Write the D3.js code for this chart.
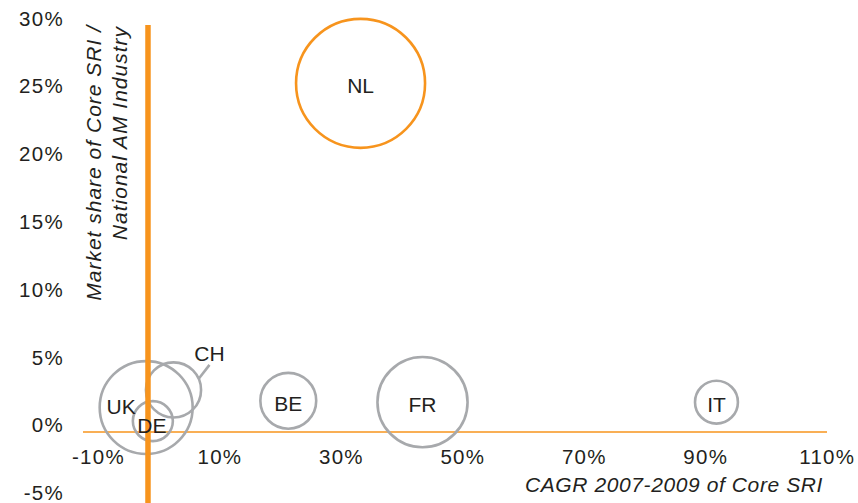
<!DOCTYPE html>
<html>
<head>
<meta charset="utf-8">
<script src="https://cdnjs.cloudflare.com/ajax/libs/d3/7.8.5/d3.min.js"></script>
<style>
    body { margin: 0; background: #fff; }
    svg { display: block; font-family: 'Liberation Sans', Arial, Helvetica, sans-serif; }
</style>
</head>
<body>
<svg id="chart"></svg>
<script>
// Data
let countries = ['NL', 'UK', 'FR', 'BE', 'CH', 'IT', 'DE'];
let cagr = [33.4, -1.9, 43.6, 21.5, 2.6, 92.0, -0.8];     // x, %
let share = [25.7, 1.8, 2.2, 2.3, 3.1, 2.2, 0.8];       // y, %
let bubbleSize = [41.6, 21.6, 20.3, 7.8, 7.6, 4.6, 4.0];  // relative size
let highlighted = ['NL'];
let xTicks = [-10, 10, 30, 50, 70, 90, 110];
let yTicks = [-5, 0, 5, 10, 15, 20, 25, 30];
let xTitle = 'CAGR 2007-2009 of Core SRI';
let yTitle = ['Market share of Core SRI /', 'National AM Industry'];
let yAxisCrossing = -1.6;

// Layout
let c = {
    svg: { width: 858, height: 503 },
    orange: '#f7941d',
    grey: '#a7a9ac',
    ink: '#231f20'
};

// label nudges for crowded bubbles (px)
let labelNudge = {
    UK: [-25, -4],
    DE: [-1, 2]
};

let svg = d3.select('#chart')
    .attr('width', c.svg.width)
    .attr('height', c.svg.height);

let scales = {
    x: d3.scaleLinear().domain([-12.3, 110.2]).range([83, 827]),
    y: d3.scaleLinear().domain([-5, 30]).range([499.8, 25]),
    r: d3.scaleSqrt().domain([0, d3.max(bubbleSize)]).range([0, 64.5])
};

let rows = countries.map((name, i) => ({
    name: name, x: cagr[i], y: share[i], size: bubbleSize[i]
}));

// Axes (labels only)
let yAxis = d3.axisLeft(scales.y)
    .tickValues(yTicks)
    .tickFormat(d => d + '%')
    .tickSize(0)
    .tickPadding(0);
let gy = svg.append('g')
    .attr('transform', translate(64, 0))
    .call(yAxis);

let xAxis = d3.axisBottom(scales.x)
    .tickValues(xTicks)
    .tickFormat(d => d + '%')
    .tickSize(0)
    .tickPadding(0);
let gx = svg.append('g')
    .attr('transform', translate(1, 464))
    .call(xAxis);

svg.selectAll('.domain').remove();
svg.selectAll('.tick line').remove();
svg.selectAll('.tick text')
    .attr('font-family', null)
    .style('font-size', '20.5px')
    .style('letter-spacing', '1.3px')
    .style('fill', c.ink);
gy.selectAll('.tick text').attr('dy', 0);
gx.selectAll('.tick text').attr('y', 0).attr('dy', 0);

// horizontal axis line at 0%
svg.append('line')
    .attr('x1', scales.x.range()[0])
    .attr('x2', scales.x.range()[1])
    .attr('y1', scales.y(0))
    .attr('y2', scales.y(0))
    .style('stroke', c.orange)
    .style('stroke-width', 1.5);

// bubbles
let plot = svg.append('g').attr('id', 'plot');
plot.selectAll('circle')
    .data(rows)
    .join('circle')
    .attr('cx', d => scales.x(d.x))
    .attr('cy', d => scales.y(d.y))
    .attr('r', d => scales.r(d.size))
    .style('fill', 'none')
    .style('stroke', d => highlighted.includes(d.name) ? c.orange : c.grey)
    .style('stroke-width', 2.6);

// thick vertical axis
svg.append('line')
    .attr('x1', scales.x(yAxisCrossing))
    .attr('x2', scales.x(yAxisCrossing))
    .attr('y1', scales.y(30))
    .attr('y2', c.svg.height)
    .style('stroke', c.orange)
    .style('stroke-width', 5.5);

// CH leader line and labels
let ch = rows.find(d => d.name === 'CH');
let chx = scales.x(ch.x), chy = scales.y(ch.y), chr = scales.r(ch.size);
let ang = Math.atan2(-11, 25);
svg.append('line')
    .attr('x1', chx + chr * Math.cos(ang))
    .attr('y1', chy + chr * Math.sin(ang))
    .attr('x2', chx + 36)
    .attr('y2', chy - 25)
    .style('stroke', c.grey)
    .style('stroke-width', 2.6);

svg.append('g').attr('id', 'text')
    .selectAll('text')
    .data(rows)
    .join('text')
    .attr('x', d => {
        if (d.name === 'CH') return chx + 36;
        return scales.x(d.x) + (labelNudge[d.name] ? labelNudge[d.name][0] : 0);
    })
    .attr('y', d => {
        if (d.name === 'CH') return chy - 29;
        return scales.y(d.y) + 10 + (labelNudge[d.name] ? labelNudge[d.name][1] : 0);
    })
    .attr('text-anchor', 'middle')
    .style('font-size', '21px')
    .style('fill', c.ink)
    .text(d => d.name);

// axis titles
svg.append('text')
    .attr('x', 823)
    .attr('y', 492)
    .attr('text-anchor', 'end')
    .style('font-size', '21px')
    .style('font-style', 'italic')
    .style('letter-spacing', '0.6px')
    .style('fill', c.ink)
    .text(xTitle);

let yt = svg.append('g');
yt.append('text')
    .attr('transform', translate(101, 25) + ' rotate(-90)')
    .attr('text-anchor', 'end')
    .style('font-size', '21px')
    .style('font-style', 'italic')
    .style('letter-spacing', '1px')
    .style('fill', c.ink)
    .text(yTitle[0]);
yt.append('text')
    .attr('transform', translate(127, 26) + ' rotate(-90)')
    .attr('text-anchor', 'end')
    .style('font-size', '21px')
    .style('font-style', 'italic')
    .style('letter-spacing', '1px')
    .style('fill', c.ink)
    .text(yTitle[1]);

function translate(x, y) {
    return 'translate(' + x + ',' + y + ')';
}
</script>
</body>
</html>
